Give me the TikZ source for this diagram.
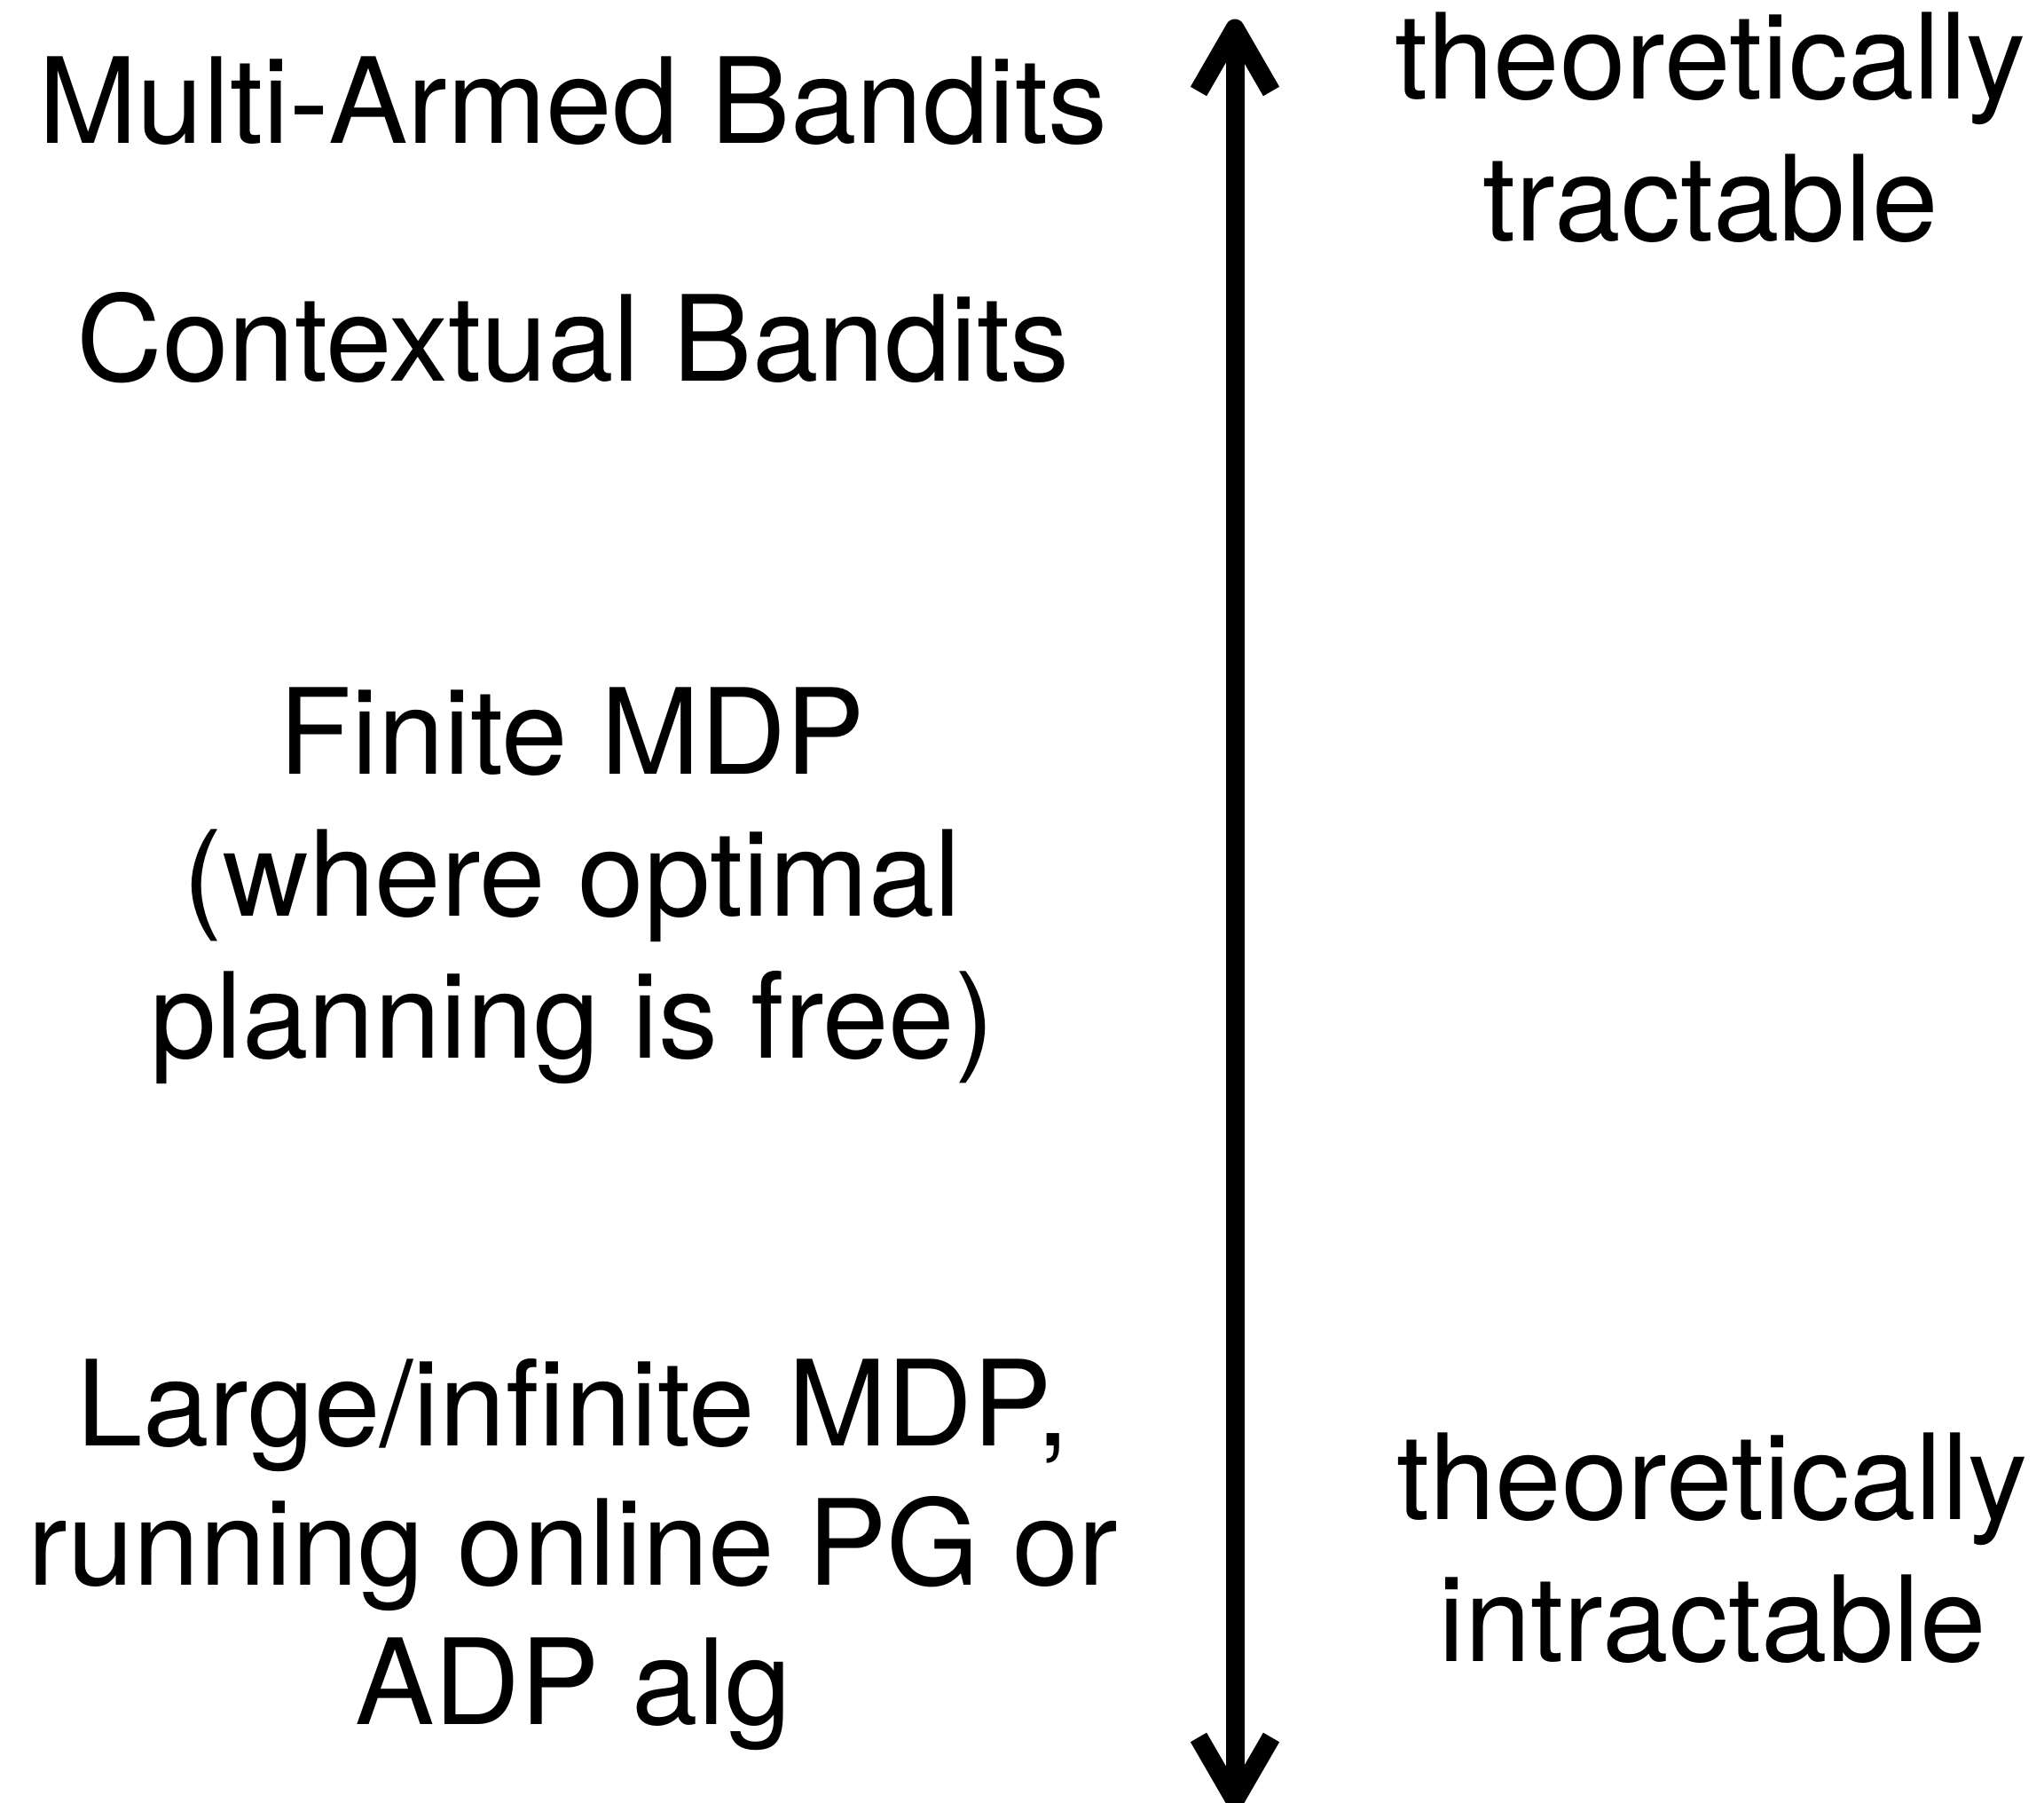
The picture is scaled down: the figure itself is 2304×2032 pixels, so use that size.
\documentclass[tikz,border=0pt]{standalone}
\usepackage{fontspec}
\setmainfont{TeX Gyre Heros}
\begin{document}
\begin{tikzpicture}[x=0.5pt,y=-0.5pt,
  lbl/.style={inner sep=0pt, anchor=base, align=center, font=\fontsize{67}{80}\selectfont},
  lblb/.style={lbl, font=\fontsize{67}{78.5}\selectfont},
  axis/.style={line width=10.5pt, black},
  barb/.style={line width=10.5pt, black, line join=round}]
\clip (0,0) rectangle (2304,2032);
\useasboundingbox (0,0) rectangle (2304,2032);
\node[lbl] (mab) at (646,162) {Multi-Armed Bandits};
\node[lbl] (cb) at (646,430) {Contextual Bandits};
\node[lbl] (fin) at (645,1192) {Finite MDP\\(where optimal\\planning is free)};
\node[lblb] (large) at (646,1943) {Large/infinite MDP,\\running online PG or\\ADP alg};
\node[lbl] (tt) at (1928,272) {theoretically\\tractable};
\node[lbl] (ti) at (1930,1872) {theoretically\\intractable};
\coordinate (top) at (1392,32);
\coordinate (bot) at (1392,2029);
\draw[axis] (top) -- (bot);
\draw[barb] ([xshift=-20.5pt,yshift=-35.5pt]top) -- (top) -- ([xshift=20.5pt,yshift=-35.5pt]top);
\draw[barb] ([xshift=-20.5pt,yshift=35.5pt]bot) -- (bot) -- ([xshift=20.5pt,yshift=35.5pt]bot);
\end{tikzpicture}
\end{document}
